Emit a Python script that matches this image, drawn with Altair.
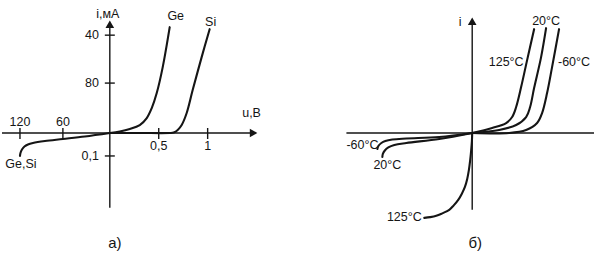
import altair as alt
import pandas as pd

INK = "#151515"
FONT = "Liberation Sans"

# ---------- panel a) : Ge / Si characteristics (schematic units, origin = 0,0) ----------
ge_x = [0, 10, 20, 30, 37, 42, 47, 53, 60]
ge_y = [0, 1.5, 4, 8, 15, 25, 40, 66, 106]
si_x = [0, 30, 60, 64, 68, 72, 77, 83, 92, 100]
si_y = [0, 0, 0, 0.5, 3, 8, 20, 43, 76, 104]
rev_a_x = [0, -25, -47, -65, -77, -82, -85.5, -88, -89.5, -90]
rev_a_y = [0, -3.5, -6, -8, -10, -11.5, -13.5, -16.5, -20, -23]

a_xticks = [-90, -47, 49, 98]
a_xtick_labels = ["120", "60", "0,5", "1"]
a_yticks = [98, 50, -23]
a_ytick_labels = ["40", "80", "0,1"]

# ---------- panel b) : temperature dependence ----------
t125_x = [0, 20, 34, 40, 44, 49, 55, 62]
t125_y = [0, 5, 10, 16, 26, 46, 73, 104]
t20_x = [0, 27, 44, 54, 58, 62, 69, 74]
t20_y = [0, 3, 8, 16, 26, 45, 76, 105]
tm60_x = [0, 37, 54, 65, 70, 75, 80, 87]
tm60_y = [0, 0, 3, 10, 20, 40, 66, 104]
r_m60_x = [0, -33, -66, -80, -87, -91, -94, -95]
r_m60_y = [0, -4, -5.5, -6.5, -8, -10, -13, -16]
r_20_x = [0, -33, -66, -78, -84, -87.5, -89.5, -90]
r_20_y = [0, -6, -10, -12, -14.5, -17.5, -21, -24]
r_125_x = [0, -0.3, -1, -2, -3.3, -5, -7.3, -10.5, -14, -18.5, -23, -30, -36, -42, -48]
r_125_y = [0, -8, -17, -27, -37, -46, -54, -61, -67, -72.5, -77, -80.5, -83, -84.3, -85]


def curve_df(name, xs, ys):
    return pd.DataFrame({"series": name, "order": list(range(len(xs))), "x": xs, "y": ys})


curves_a = pd.concat([
    curve_df("Ge", ge_x, ge_y),
    curve_df("Si", si_x, si_y),
    curve_df("rev", rev_a_x, rev_a_y),
])
curves_b = pd.concat([
    curve_df("125f", t125_x, t125_y),
    curve_df("20f", t20_x, t20_y),
    curve_df("-60f", tm60_x, tm60_y),
    curve_df("-60r", r_m60_x, r_m60_y),
    curve_df("20r", r_20_x, r_20_y),
    curve_df("125r", r_125_x, r_125_y),
])

H = 264


def panel(width, xdom, ydom, curves, hline, vline, arrows, ticks_x, ticks_y, labels):
    xs = alt.Scale(domain=xdom, nice=False, zero=False)
    ys = alt.Scale(domain=ydom, nice=False, zero=False)
    X = lambda f: alt.X(f, type="quantitative", scale=xs, axis=None)
    Y = lambda f: alt.Y(f, type="quantitative", scale=ys, axis=None)

    lines = alt.Chart(curves).mark_line(
        color=INK, strokeWidth=2.1, interpolate="catmull-rom", strokeCap="round"
    ).encode(x=X("x"), y=Y("y"), detail="series:N", order="order:Q")

    hdf = pd.DataFrame([hline], columns=["x1", "x2", "y"])
    h = alt.Chart(hdf).mark_rule(color=INK, strokeWidth=1.4).encode(
        x=X("x1"), x2="x2", y=Y("y"))
    vdf = pd.DataFrame([vline], columns=["x", "y1", "y2"])
    v = alt.Chart(vdf).mark_rule(color=INK, strokeWidth=1.4).encode(
        x=X("x"), y=Y("y1"), y2="y2")

    adf = pd.DataFrame(arrows, columns=["x", "y", "shape"])
    arr = alt.Chart(adf).mark_point(filled=True, color=INK, opacity=1, size=75).encode(
        x=X("x"), y=Y("y"), shape=alt.Shape("shape:N", scale=None))

    layers = [lines, h, v, arr]
    if ticks_x:
        tx = pd.DataFrame({"x": ticks_x, "y1": -6, "y2": 5})
        layers.append(alt.Chart(tx).mark_rule(color=INK, strokeWidth=1.4).encode(
            x=X("x"), y=Y("y1"), y2="y2"))
    if ticks_y:
        ty = pd.DataFrame({"y": ticks_y, "x1": -5, "x2": 5})
        layers.append(alt.Chart(ty).mark_rule(color=INK, strokeWidth=1.4).encode(
            y=Y("y"), x=X("x1"), x2="x2"))

    ldf = pd.DataFrame(labels, columns=["x", "y", "text", "align", "size"])
    for al in ["left", "center", "right"]:
        sub = ldf[ldf["align"] == al]
        if len(sub):
            layers.append(alt.Chart(sub).mark_text(
                align=al, baseline="middle", font=FONT, color=INK
            ).encode(x=X("x"), y=Y("y"), text="text:N",
                     size=alt.Size("size:Q", scale=None)))

    return alt.layer(*layers).properties(width=width, height=H)


labels_a = (
    [(-11, y, t, "right", 12.5) for y, t in zip(a_yticks, a_ytick_labels)]
    + [(x, 11, t, "center", 12.5) for x, t in zip(a_xticks[:2], a_xtick_labels[:2])]
    + [(x, -13, t, "center", 12.5) for x, t in zip(a_xticks[2:], a_xtick_labels[2:])]
    + [
        (142, 20, "u,B", "center", 12.5),
        (-2, 119, "i,мА", "center", 12.5),
        (66, 117, "Ge", "center", 12.5),
        (101, 111, "Si", "center", 12.5),
        (-89, -31, "Ge,Si", "center", 12.5),
        (5, -110, "а)", "center", 15),
    ]
)

labels_b = [
    (-12, 111, "i", "center", 12.5),
    (74, 112, "20°C", "center", 12.5),
    (34, 71, "125°C", "center", 12.5),
    (102, 71, "-60°C", "center", 12.5),
    (-110, -12, "-60°C", "center", 12.5),
    (-85, -32, "20°C", "center", 12.5),
    (-68, -84, "125°C", "center", 12.5),
    (3, -110, "б)", "center", 15),
]

pa = panel(
    297, [-110, 187], [-131, 133], curves_a,
    hline=(-108, 142, 0), vline=(0, -75, 106),
    arrows=[(0, 109, "triangle-up"), (144, 0, "triangle-right")],
    ticks_x=a_xticks, ticks_y=a_yticks, labels=labels_a,
)
pb = panel(
    298, [-176, 122], [-131, 133], curves_b,
    hline=(-126, 122, 0), vline=(0, -77, 110),
    arrows=[(0, 112, "triangle-up")],
    ticks_x=None, ticks_y=None, labels=labels_b,
)

chart = alt.hconcat(pa, pb, spacing=0).properties(
    padding=0, background="white"
).configure_view(stroke=None)

chart.save("out.html", embed_options={"renderer": "svg", "actions": False})
